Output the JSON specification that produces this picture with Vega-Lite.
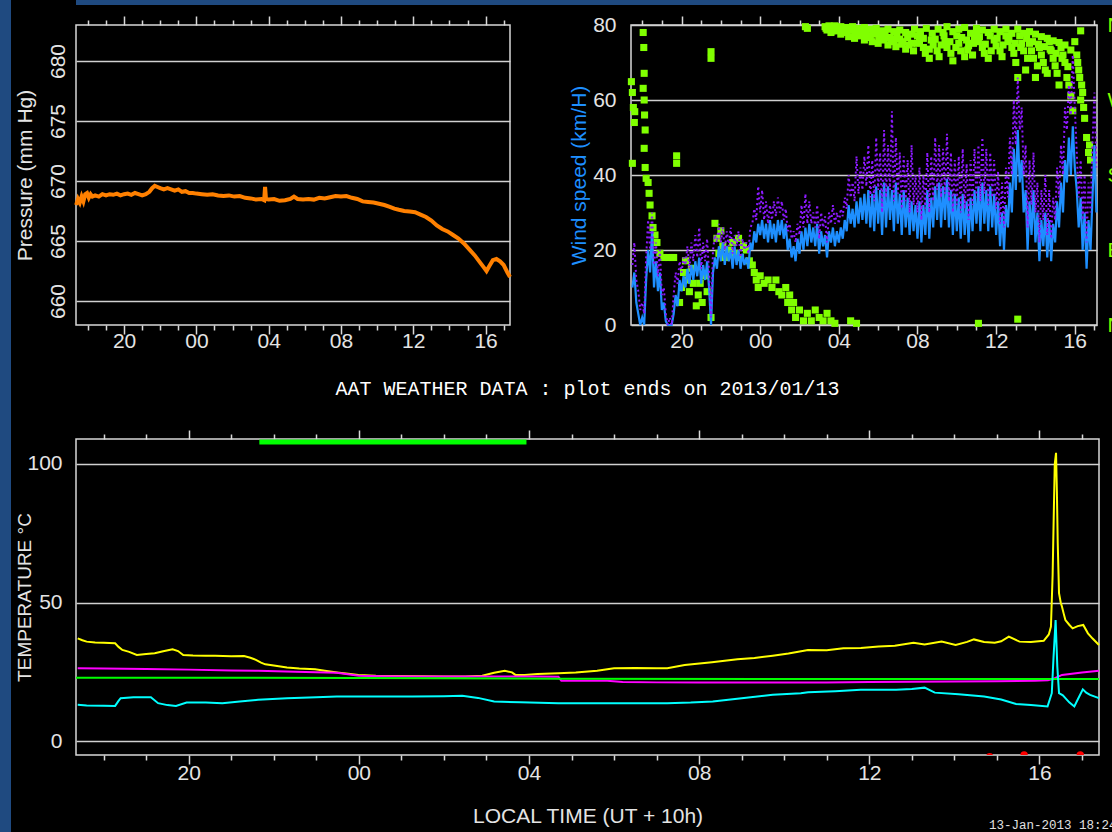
{
"$schema": "https://vega.github.io/schema/vega-lite/v6.json",
"background": "#000000",
"padding": 0,
"title": {"text": "13-Jan-2013 18:24", "orient": "bottom", "anchor": "end", "font": "Liberation Mono", "fontSize": 12.5, "fontWeight": "normal", "color": "#e0e0e0", "offset": -13, "dx": -11},
"spacing": 2,
"config": {
  "view": {"stroke": "#d8d8d8", "strokeWidth": 1.5},
  "axis": {"domain": false, "labelColor": "#e4e4e4", "labelFont": "Liberation Sans", "labelFontSize": 21, "titleColor": "#e4e4e4", "titleFont": "Liberation Sans", "titleFontSize": 21, "titleFontWeight": "normal", "tickColor": "#d8d8d8", "tickWidth": 1.5, "gridColor": "#d0d0d0", "gridWidth": 1.5, "gridOpacity": 1, "labelOverlap": false, "labelFlush": false}
},
"datasets": {
"pressure": [{"t":17.35,"p":668.0},{"t":17.45,"p":668.5},{"t":17.55,"p":668.2},{"t":17.65,"p":668.7},{"t":17.75,"p":668.3},{"t":17.85,"p":668.9},{"t":17.95,"p":669.0},{"t":18.05,"p":668.6},{"t":18.15,"p":668.9},{"t":18.25,"p":668.7},{"t":18.4,"p":668.8},{"t":18.6,"p":668.7},{"t":18.8,"p":668.9},{"t":19.0,"p":668.8},{"t":19.2,"p":668.9},{"t":19.4,"p":668.85},{"t":19.6,"p":668.95},{"t":19.8,"p":668.8},{"t":20.0,"p":668.9},{"t":20.2,"p":668.95},{"t":20.4,"p":668.85},{"t":20.6,"p":669.0},{"t":20.8,"p":668.9},{"t":21.0,"p":668.8},{"t":21.2,"p":668.9},{"t":21.4,"p":669.1},{"t":21.55,"p":669.4},{"t":21.7,"p":669.6},{"t":21.85,"p":669.5},{"t":22.0,"p":669.4},{"t":22.2,"p":669.3},{"t":22.4,"p":669.4},{"t":22.6,"p":669.3},{"t":22.8,"p":669.2},{"t":23.0,"p":669.3},{"t":23.2,"p":669.1},{"t":23.4,"p":669.15},{"t":23.6,"p":669.0},{"t":23.8,"p":669.0},{"t":24.0,"p":668.95},{"t":24.3,"p":668.9},{"t":24.6,"p":668.85},{"t":24.9,"p":668.9},{"t":25.2,"p":668.8},{"t":25.5,"p":668.75},{"t":25.8,"p":668.8},{"t":26.1,"p":668.7},{"t":26.4,"p":668.75},{"t":26.7,"p":668.6},{"t":27.0,"p":668.55},{"t":27.3,"p":668.45},{"t":27.6,"p":668.5},{"t":27.75,"p":668.4},{"t":27.8,"p":669.5},{"t":27.85,"p":668.5},{"t":28.0,"p":668.45},{"t":28.3,"p":668.5},{"t":28.6,"p":668.35},{"t":28.9,"p":668.4},{"t":29.2,"p":668.5},{"t":29.4,"p":668.7},{"t":29.6,"p":668.5},{"t":29.9,"p":668.45},{"t":30.2,"p":668.5},{"t":30.5,"p":668.45},{"t":30.8,"p":668.6},{"t":31.1,"p":668.55},{"t":31.4,"p":668.65},{"t":31.7,"p":668.75},{"t":32.0,"p":668.7},{"t":32.3,"p":668.75},{"t":32.6,"p":668.6},{"t":32.9,"p":668.5},{"t":33.2,"p":668.3},{"t":33.5,"p":668.25},{"t":33.8,"p":668.2},{"t":34.1,"p":668.1},{"t":34.4,"p":668.0},{"t":34.7,"p":667.85},{"t":34.95,"p":667.7},{"t":35.2,"p":667.6},{"t":35.5,"p":667.5},{"t":35.8,"p":667.45},{"t":36.1,"p":667.4},{"t":36.4,"p":667.2},{"t":36.7,"p":667.0},{"t":37.0,"p":666.7},{"t":37.3,"p":666.3},{"t":37.6,"p":666.0},{"t":37.9,"p":665.8},{"t":38.2,"p":665.5},{"t":38.5,"p":665.2},{"t":38.8,"p":664.8},{"t":39.1,"p":664.3},{"t":39.4,"p":663.8},{"t":39.7,"p":663.2},{"t":39.9,"p":662.8},{"t":40.05,"p":662.5},{"t":40.2,"p":662.9},{"t":40.4,"p":663.4},{"t":40.6,"p":663.5},{"t":40.8,"p":663.3},{"t":41.0,"p":663.0},{"t":41.2,"p":662.4},{"t":41.35,"p":662.0}],
"wind": [{"t":17.5,"ws":10,"wg":16},{"t":17.6,"ws":14,"wg":22},{"t":17.7,"ws":6,"wg":12},{"t":17.8,"ws":3,"wg":9},{"t":17.9,"ws":0,"wg":4},{"t":18.0,"ws":2,"wg":6},{"t":18.1,"ws":0,"wg":3},{"t":18.2,"ws":12,"wg":18},{"t":18.3,"ws":20,"wg":28},{"t":18.4,"ws":14,"wg":20},{"t":18.5,"ws":25,"wg":30},{"t":18.6,"ws":10,"wg":16},{"t":18.7,"ws":17,"wg":22},{"t":18.8,"ws":9,"wg":13},{"t":18.9,"ws":14,"wg":20},{"t":19.0,"ws":4,"wg":8},{"t":19.1,"ws":6,"wg":10},{"t":19.2,"ws":1,"wg":3},{"t":19.3,"ws":0,"wg":0},{"t":19.4,"ws":0,"wg":2},{"t":19.5,"ws":0,"wg":0},{"t":19.6,"ws":3,"wg":8},{"t":19.7,"ws":8,"wg":14},{"t":19.8,"ws":5,"wg":11},{"t":19.9,"ws":12,"wg":17},{"t":20.0,"ws":9,"wg":14},{"t":20.1,"ws":13,"wg":18},{"t":20.2,"ws":10,"wg":16},{"t":20.3,"ws":15,"wg":21},{"t":20.4,"ws":11,"wg":15},{"t":20.5,"ws":16,"wg":22},{"t":20.6,"ws":12,"wg":17},{"t":20.7,"ws":17,"wg":24},{"t":20.8,"ws":13,"wg":18},{"t":20.9,"ws":18,"wg":26},{"t":21.0,"ws":11,"wg":15},{"t":21.1,"ws":16,"wg":22},{"t":21.2,"ws":12,"wg":17},{"t":21.3,"ws":17,"wg":23},{"t":21.4,"ws":10,"wg":14},{"t":21.5,"ws":0,"wg":2},{"t":21.6,"ws":14,"wg":20},{"t":21.7,"ws":18,"wg":24},{"t":21.8,"ws":15,"wg":22},{"t":21.9,"ws":21,"wg":27},{"t":22.0,"ws":17,"wg":22},{"t":22.1,"ws":22,"wg":26},{"t":22.2,"ws":16,"wg":20},{"t":22.3,"ws":21,"wg":25},{"t":22.4,"ws":17,"wg":21},{"t":22.5,"ws":20,"wg":26},{"t":22.6,"ws":15,"wg":19},{"t":22.7,"ws":21,"wg":24},{"t":22.8,"ws":16,"wg":21},{"t":22.9,"ws":20,"wg":25},{"t":23.0,"ws":15,"wg":18},{"t":23.1,"ws":19,"wg":23},{"t":23.2,"ws":16,"wg":20},{"t":23.3,"ws":18,"wg":22},{"t":23.4,"ws":15,"wg":19},{"t":23.5,"ws":22,"wg":26},{"t":23.6,"ws":20,"wg":27},{"t":23.7,"ws":25,"wg":31},{"t":23.8,"ws":22,"wg":28},{"t":23.9,"ws":27,"wg":37},{"t":24.0,"ws":24,"wg":30},{"t":24.1,"ws":28,"wg":36},{"t":24.2,"ws":23,"wg":28},{"t":24.3,"ws":27,"wg":33},{"t":24.4,"ws":22,"wg":27},{"t":24.5,"ws":28,"wg":32},{"t":24.6,"ws":23,"wg":28},{"t":24.7,"ws":27,"wg":33},{"t":24.8,"ws":22,"wg":29},{"t":24.9,"ws":28,"wg":34},{"t":25.0,"ws":24,"wg":30},{"t":25.1,"ws":28,"wg":33},{"t":25.2,"ws":23,"wg":28},{"t":25.3,"ws":27,"wg":31},{"t":25.4,"ws":20,"wg":25},{"t":25.5,"ws":23,"wg":27},{"t":25.6,"ws":18,"wg":23},{"t":25.7,"ws":21,"wg":25},{"t":25.8,"ws":17,"wg":22},{"t":25.9,"ws":23,"wg":27},{"t":26.0,"ws":19,"wg":24},{"t":26.1,"ws":25,"wg":32},{"t":26.2,"ws":20,"wg":26},{"t":26.3,"ws":26,"wg":35},{"t":26.4,"ws":21,"wg":27},{"t":26.5,"ws":27,"wg":33},{"t":26.6,"ws":22,"wg":27},{"t":26.7,"ws":26,"wg":30},{"t":26.8,"ws":21,"wg":26},{"t":26.9,"ws":27,"wg":32},{"t":27.0,"ws":19,"wg":23},{"t":27.1,"ws":25,"wg":30},{"t":27.2,"ws":21,"wg":26},{"t":27.3,"ws":24,"wg":29},{"t":27.4,"ws":18,"wg":22},{"t":27.5,"ws":25,"wg":30},{"t":27.6,"ws":22,"wg":27},{"t":27.7,"ws":26,"wg":32},{"t":27.8,"ws":21,"wg":27},{"t":27.9,"ws":25,"wg":30},{"t":28.0,"ws":22,"wg":27},{"t":28.1,"ws":26,"wg":31},{"t":28.2,"ws":23,"wg":29},{"t":28.3,"ws":28,"wg":34},{"t":28.4,"ws":25,"wg":31},{"t":28.5,"ws":32,"wg":40},{"t":28.6,"ws":27,"wg":34},{"t":28.7,"ws":31,"wg":38},{"t":28.8,"ws":26,"wg":33},{"t":28.9,"ws":33,"wg":45},{"t":29.0,"ws":27,"wg":35},{"t":29.1,"ws":34,"wg":42},{"t":29.2,"ws":28,"wg":36},{"t":29.3,"ws":35,"wg":45},{"t":29.4,"ws":27,"wg":37},{"t":29.5,"ws":36,"wg":48},{"t":29.6,"ws":26,"wg":34},{"t":29.7,"ws":35,"wg":44},{"t":29.8,"ws":25,"wg":33},{"t":29.9,"ws":37,"wg":50},{"t":30.0,"ws":27,"wg":36},{"t":30.1,"ws":36,"wg":46},{"t":30.2,"ws":24,"wg":30},{"t":30.3,"ws":38,"wg":52},{"t":30.4,"ws":26,"wg":34},{"t":30.5,"ws":37,"wg":48},{"t":30.6,"ws":28,"wg":36},{"t":30.7,"ws":36,"wg":57},{"t":30.8,"ws":25,"wg":33},{"t":30.9,"ws":38,"wg":50},{"t":31.0,"ws":27,"wg":35},{"t":31.1,"ws":35,"wg":46},{"t":31.2,"ws":24,"wg":31},{"t":31.3,"ws":36,"wg":45},{"t":31.4,"ws":26,"wg":33},{"t":31.5,"ws":34,"wg":44},{"t":31.6,"ws":24,"wg":30},{"t":31.7,"ws":33,"wg":48},{"t":31.8,"ws":25,"wg":32},{"t":31.9,"ws":32,"wg":40},{"t":32.0,"ws":23,"wg":30},{"t":32.1,"ws":33,"wg":42},{"t":32.2,"ws":22,"wg":28},{"t":32.3,"ws":32,"wg":40},{"t":32.4,"ws":24,"wg":31},{"t":32.5,"ws":36,"wg":46},{"t":32.6,"ws":23,"wg":30},{"t":32.7,"ws":34,"wg":45},{"t":32.8,"ws":26,"wg":33},{"t":32.9,"ws":37,"wg":50},{"t":33.0,"ws":28,"wg":36},{"t":33.1,"ws":38,"wg":48},{"t":33.2,"ws":26,"wg":34},{"t":33.3,"ws":37,"wg":47},{"t":33.4,"ws":28,"wg":35},{"t":33.5,"ws":39,"wg":51},{"t":33.6,"ws":26,"wg":33},{"t":33.7,"ws":36,"wg":46},{"t":33.8,"ws":24,"wg":30},{"t":33.9,"ws":35,"wg":44},{"t":34.0,"ws":25,"wg":32},{"t":34.1,"ws":34,"wg":45},{"t":34.2,"ws":23,"wg":30},{"t":34.3,"ws":35,"wg":47},{"t":34.4,"ws":24,"wg":31},{"t":34.5,"ws":33,"wg":43},{"t":34.6,"ws":22,"wg":28},{"t":34.7,"ws":34,"wg":44},{"t":34.8,"ws":25,"wg":32},{"t":34.9,"ws":36,"wg":47},{"t":35.0,"ws":27,"wg":34},{"t":35.1,"ws":37,"wg":48},{"t":35.2,"ws":25,"wg":33},{"t":35.3,"ws":38,"wg":50},{"t":35.4,"ws":27,"wg":35},{"t":35.5,"ws":36,"wg":47},{"t":35.6,"ws":25,"wg":32},{"t":35.7,"ws":37,"wg":46},{"t":35.8,"ws":26,"wg":34},{"t":35.9,"ws":35,"wg":44},{"t":36.0,"ws":24,"wg":31},{"t":36.1,"ws":33,"wg":41},{"t":36.2,"ws":21,"wg":27},{"t":36.3,"ws":30,"wg":38},{"t":36.4,"ws":20,"wg":26},{"t":36.5,"ws":32,"wg":42},{"t":36.6,"ws":26,"wg":34},{"t":36.7,"ws":38,"wg":50},{"t":36.8,"ws":30,"wg":40},{"t":36.9,"ws":47,"wg":60},{"t":37.0,"ws":36,"wg":48},{"t":37.1,"ws":52,"wg":66},{"t":37.2,"ws":38,"wg":52},{"t":37.3,"ws":44,"wg":58},{"t":37.4,"ws":30,"wg":40},{"t":37.5,"ws":36,"wg":48},{"t":37.6,"ws":20,"wg":26},{"t":37.7,"ws":33,"wg":44},{"t":37.8,"ws":24,"wg":32},{"t":37.9,"ws":36,"wg":46},{"t":38.0,"ws":22,"wg":30},{"t":38.1,"ws":30,"wg":38},{"t":38.2,"ws":17,"wg":22},{"t":38.3,"ws":28,"wg":36},{"t":38.4,"ws":21,"wg":28},{"t":38.5,"ws":30,"wg":40},{"t":38.6,"ws":18,"wg":24},{"t":38.7,"ws":28,"wg":36},{"t":38.8,"ws":17,"wg":23},{"t":38.9,"ws":27,"wg":34},{"t":39.0,"ws":22,"wg":28},{"t":39.1,"ws":33,"wg":42},{"t":39.2,"ws":26,"wg":34},{"t":39.3,"ws":38,"wg":48},{"t":39.4,"ws":30,"wg":40},{"t":39.5,"ws":44,"wg":58},{"t":39.6,"ws":38,"wg":52},{"t":39.7,"ws":50,"wg":64},{"t":39.8,"ws":40,"wg":56},{"t":39.9,"ws":53,"wg":72},{"t":40.0,"ws":42,"wg":58},{"t":40.1,"ws":36,"wg":46},{"t":40.2,"ws":26,"wg":34},{"t":40.3,"ws":34,"wg":44},{"t":40.4,"ws":20,"wg":28},{"t":40.5,"ws":30,"wg":40},{"t":40.6,"ws":15,"wg":22},{"t":40.7,"ws":28,"wg":38},{"t":40.8,"ws":20,"wg":30},{"t":40.9,"ws":34,"wg":48},{"t":41.0,"ws":48,"wg":62},{"t":41.1,"ws":30,"wg":42}],
"winddir": [{"t":17.45,"d":292},{"t":17.5,"d":279},{"t":17.55,"d":261},{"t":17.6,"d":243},{"t":17.5,"d":194},{"t":17.62,"d":256},{"t":18.05,"d":351},{"t":18.08,"d":333},{"t":18.1,"d":302},{"t":18.05,"d":284},{"t":18.1,"d":270},{"t":18.12,"d":252},{"t":18.15,"d":234},{"t":18.1,"d":212},{"t":18.15,"d":189},{"t":18.2,"d":176},{"t":18.3,"d":171},{"t":18.35,"d":158},{"t":18.4,"d":144},{"t":18.5,"d":131},{"t":18.55,"d":117},{"t":18.65,"d":108},{"t":18.75,"d":99},{"t":18.9,"d":86},{"t":19.1,"d":81},{"t":19.3,"d":81},{"t":19.5,"d":81},{"t":19.6,"d":81},{"t":19.75,"d":203},{"t":19.75,"d":194},{"t":19.9,"d":27},{"t":20.0,"d":45},{"t":20.1,"d":63},{"t":20.2,"d":77},{"t":20.3,"d":54},{"t":20.4,"d":40},{"t":20.5,"d":68},{"t":20.6,"d":50},{"t":20.75,"d":23},{"t":20.85,"d":36},{"t":20.95,"d":50},{"t":21.05,"d":27},{"t":21.2,"d":59},{"t":21.3,"d":40},{"t":21.5,"d":328},{"t":21.5,"d":320},{"t":21.5,"d":9},{"t":21.7,"d":122},{"t":21.8,"d":104},{"t":21.9,"d":86},{"t":22.0,"d":113},{"t":22.1,"d":95},{"t":22.2,"d":81},{"t":22.4,"d":90},{"t":22.6,"d":99},{"t":22.7,"d":86},{"t":22.9,"d":104},{"t":23.0,"d":81},{"t":23.15,"d":95},{"t":23.3,"d":90},{"t":23.45,"d":77},{"t":23.6,"d":72},{"t":23.7,"d":63},{"t":23.8,"d":54},{"t":23.9,"d":45},{"t":24.0,"d":59},{"t":24.2,"d":50},{"t":24.4,"d":54},{"t":24.6,"d":45},{"t":24.8,"d":54},{"t":24.95,"d":40},{"t":25.1,"d":36},{"t":25.3,"d":45},{"t":25.4,"d":27},{"t":25.5,"d":36},{"t":25.6,"d":18},{"t":25.7,"d":27},{"t":25.8,"d":9},{"t":26.0,"d":18},{"t":26.2,"d":5},{"t":26.4,"d":14},{"t":26.6,"d":5},{"t":26.8,"d":18},{"t":27.0,"d":9},{"t":27.2,"d":5},{"t":27.4,"d":14},{"t":27.6,"d":5},{"t":27.8,"d":2},{"t":28.6,"d":5},{"t":28.9,"d":2},{"t":26.3,"d":358},{"t":26.4,"d":356},{"t":27.3,"d":358},{"t":27.4,"d":354},{"t":27.6,"d":351},{"t":27.8,"d":357},{"t":27.9,"d":353},{"t":28.1,"d":349},{"t":28.2,"d":356},{"t":28.4,"d":351},{"t":28.5,"d":346},{"t":28.7,"d":354},{"t":28.8,"d":344},{"t":29.0,"d":351},{"t":29.1,"d":347},{"t":29.3,"d":342},{"t":29.4,"d":352},{"t":29.6,"d":345},{"t":29.7,"d":340},{"t":29.9,"d":349},{"t":30.0,"d":338},{"t":30.2,"d":347},{"t":30.3,"d":342},{"t":30.5,"d":336},{"t":30.6,"d":345},{"t":30.8,"d":340},{"t":30.9,"d":334},{"t":31.1,"d":343},{"t":31.2,"d":337},{"t":31.4,"d":331},{"t":31.5,"d":345},{"t":31.7,"d":338},{"t":31.8,"d":329},{"t":32.0,"d":347},{"t":32.1,"d":340},{"t":32.3,"d":333},{"t":32.4,"d":326},{"t":32.6,"d":320},{"t":32.7,"d":342},{"t":32.8,"d":336},{"t":33.0,"d":329},{"t":33.1,"d":322},{"t":33.3,"d":351},{"t":33.4,"d":340},{"t":33.5,"d":333},{"t":33.7,"d":326},{"t":33.8,"d":317},{"t":34.0,"d":347},{"t":34.1,"d":338},{"t":34.2,"d":329},{"t":34.4,"d":322},{"t":34.5,"d":342},{"t":34.6,"d":335},{"t":34.8,"d":324},{"t":34.9,"d":345},{"t":35.0,"d":351},{"t":35.1,"d":340},{"t":35.3,"d":333},{"t":35.4,"d":326},{"t":35.6,"d":320},{"t":35.7,"d":347},{"t":35.9,"d":342},{"t":36.0,"d":335},{"t":36.2,"d":329},{"t":36.3,"d":322},{"t":36.5,"d":347},{"t":36.6,"d":340},{"t":36.8,"d":333},{"t":36.9,"d":326},{"t":37.0,"d":315},{"t":37.1,"d":297},{"t":37.2,"d":347},{"t":37.3,"d":338},{"t":37.4,"d":329},{"t":37.5,"d":306},{"t":37.6,"d":320},{"t":37.7,"d":338},{"t":37.8,"d":329},{"t":37.9,"d":320},{"t":38.0,"d":297},{"t":38.1,"d":311},{"t":38.2,"d":333},{"t":38.3,"d":324},{"t":38.4,"d":315},{"t":38.5,"d":306},{"t":38.6,"d":302},{"t":38.7,"d":340},{"t":38.8,"d":329},{"t":38.9,"d":320},{"t":39.0,"d":311},{"t":39.1,"d":302},{"t":39.2,"d":288},{"t":39.3,"d":333},{"t":39.4,"d":324},{"t":39.5,"d":315},{"t":39.6,"d":297},{"t":39.7,"d":288},{"t":39.8,"d":275},{"t":39.9,"d":257},{"t":40.0,"d":340},{"t":40.1,"d":324},{"t":40.15,"d":315},{"t":40.2,"d":306},{"t":40.25,"d":297},{"t":40.3,"d":353},{"t":40.3,"d":270},{"t":40.35,"d":288},{"t":40.4,"d":279},{"t":40.45,"d":261},{"t":40.5,"d":248},{"t":40.6,"d":225},{"t":40.7,"d":207},{"t":40.8,"d":198},{"t":40.75,"d":216},{"t":35.1,"d":2},{"t":37.1,"d":7},
{"t":27.35,"d":356},{"t":27.5,"d":359},{"t":27.65,"d":353},{"t":27.8,"d":359},{"t":27.95,"d":355},{"t":28.1,"d":358},{"t":28.25,"d":352},{"t":28.4,"d":357},{"t":28.55,"d":354},{"t":28.7,"d":358},{"t":28.85,"d":349},{"t":29.0,"d":356},{"t":29.15,"d":352},{"t":29.3,"d":357},{"t":29.45,"d":347},{"t":29.6,"d":355},{"t":29.75,"d":350},{"t":29.9,"d":356},{"t":30.05,"d":345},{"t":30.2,"d":353},{"t":30.35,"d":348},{"t":30.5,"d":355},{"t":30.65,"d":343},{"t":30.8,"d":352},{"t":30.95,"d":347},{"t":31.1,"d":354},{"t":31.25,"d":340},{"t":31.4,"d":351},{"t":31.55,"d":336},{"t":31.7,"d":349},{"t":31.85,"d":355},{"t":32.0,"d":338},{"t":32.15,"d":352},{"t":32.3,"d":344},{"t":32.45,"d":356},{"t":32.6,"d":331},{"t":32.75,"d":350},{"t":32.9,"d":343},{"t":33.05,"d":355},{"t":33.2,"d":336},{"t":33.35,"d":347},{"t":33.5,"d":358},{"t":33.65,"d":340},{"t":33.8,"d":352},{"t":33.95,"d":333},{"t":34.1,"d":355},{"t":34.25,"d":345},{"t":34.4,"d":357},{"t":34.55,"d":330},{"t":34.7,"d":350},{"t":34.85,"d":338},{"t":35.0,"d":356},{"t":35.15,"d":346},{"t":35.3,"d":354},{"t":35.45,"d":337},{"t":35.6,"d":351},{"t":35.75,"d":329},{"t":35.9,"d":355},{"t":36.05,"d":344},{"t":36.2,"d":352},{"t":36.35,"d":336},{"t":36.5,"d":355},{"t":36.65,"d":343},{"t":36.8,"d":350},{"t":36.95,"d":338},{"t":37.1,"d":355},{"t":37.25,"d":333},{"t":37.4,"d":350},{"t":37.55,"d":344},{"t":37.7,"d":352},{"t":37.85,"d":340},{"t":38.0,"d":349},{"t":38.15,"d":337},{"t":38.3,"d":346},{"t":38.45,"d":334},{"t":38.6,"d":344},{"t":38.75,"d":331},{"t":38.9,"d":341},{"t":39.05,"d":326},{"t":39.2,"d":339},{"t":39.35,"d":320},{"t":39.5,"d":336},{"t":39.65,"d":310},{"t":39.8,"d":330}],
"temps": [{"t":17.39,"v":37.1,"s":"a"},{"t":17.5,"v":36.4,"s":"a"},{"t":17.6,"v":35.9,"s":"a"},{"t":17.8,"v":35.6,"s":"a"},{"t":18.0,"v":35.5,"s":"a"},{"t":18.27,"v":35.3,"s":"a"},{"t":18.35,"v":34.0,"s":"a"},{"t":18.44,"v":32.9,"s":"a"},{"t":18.6,"v":32.2,"s":"a"},{"t":18.78,"v":31.1,"s":"a"},{"t":19.0,"v":31.4,"s":"a"},{"t":19.2,"v":31.7,"s":"a"},{"t":19.4,"v":32.4,"s":"a"},{"t":19.62,"v":33.1,"s":"a"},{"t":19.75,"v":32.5,"s":"a"},{"t":19.87,"v":31.1,"s":"a"},{"t":20.1,"v":30.9,"s":"a"},{"t":20.4,"v":30.8,"s":"a"},{"t":20.62,"v":30.8,"s":"a"},{"t":21.0,"v":30.6,"s":"a"},{"t":21.3,"v":30.7,"s":"a"},{"t":21.45,"v":30.1,"s":"a"},{"t":21.58,"v":29.3,"s":"a"},{"t":21.7,"v":28.3,"s":"a"},{"t":21.8,"v":27.7,"s":"a"},{"t":22.0,"v":27.3,"s":"a"},{"t":22.31,"v":26.6,"s":"a"},{"t":22.6,"v":26.2,"s":"a"},{"t":22.97,"v":25.9,"s":"a"},{"t":23.2,"v":25.4,"s":"a"},{"t":23.49,"v":24.8,"s":"a"},{"t":23.75,"v":24.3,"s":"a"},{"t":23.99,"v":23.9,"s":"a"},{"t":24.4,"v":23.6,"s":"a"},{"t":24.83,"v":23.5,"s":"a"},{"t":25.5,"v":23.4,"s":"a"},{"t":26.0,"v":23.3,"s":"a"},{"t":26.5,"v":23.3,"s":"a"},{"t":26.9,"v":23.6,"s":"a"},{"t":27.18,"v":24.7,"s":"a"},{"t":27.43,"v":25.4,"s":"a"},{"t":27.6,"v":24.8,"s":"a"},{"t":27.68,"v":23.9,"s":"a"},{"t":27.9,"v":23.9,"s":"a"},{"t":28.2,"v":24.2,"s":"a"},{"t":28.69,"v":24.5,"s":"a"},{"t":29.1,"v":24.8,"s":"a"},{"t":29.6,"v":25.4,"s":"a"},{"t":30.0,"v":26.3,"s":"a"},{"t":30.5,"v":26.4,"s":"a"},{"t":31.0,"v":26.3,"s":"a"},{"t":31.25,"v":26.3,"s":"a"},{"t":31.66,"v":27.5,"s":"a"},{"t":32.3,"v":28.5,"s":"a"},{"t":32.9,"v":29.5,"s":"a"},{"t":33.3,"v":30.0,"s":"a"},{"t":33.73,"v":30.8,"s":"a"},{"t":34.1,"v":31.6,"s":"a"},{"t":34.56,"v":32.9,"s":"a"},{"t":35.0,"v":32.8,"s":"a"},{"t":35.39,"v":33.5,"s":"a"},{"t":35.8,"v":33.6,"s":"a"},{"t":36.22,"v":34.1,"s":"a"},{"t":36.6,"v":34.4,"s":"a"},{"t":37.04,"v":35.5,"s":"a"},{"t":37.3,"v":34.9,"s":"a"},{"t":37.7,"v":35.9,"s":"a"},{"t":38.03,"v":34.7,"s":"a"},{"t":38.3,"v":35.8,"s":"a"},{"t":38.46,"v":36.7,"s":"a"},{"t":38.7,"v":35.8,"s":"a"},{"t":38.95,"v":35.5,"s":"a"},{"t":39.1,"v":36.0,"s":"a"},{"t":39.28,"v":37.7,"s":"a"},{"t":39.53,"v":35.9,"s":"a"},{"t":39.8,"v":35.8,"s":"a"},{"t":40.1,"v":36.2,"s":"a"},{"t":40.22,"v":38.5,"s":"a"},{"t":40.27,"v":41.3,"s":"a"},{"t":40.31,"v":60,"s":"a"},{"t":40.34,"v":84.5,"s":"a"},{"t":40.36,"v":100,"s":"a"},{"t":40.39,"v":104,"s":"a"},{"t":40.41,"v":90,"s":"a"},{"t":40.43,"v":71.4,"s":"a"},{"t":40.46,"v":53.4,"s":"a"},{"t":40.5,"v":50,"s":"a"},{"t":40.53,"v":48.5,"s":"a"},{"t":40.57,"v":46,"s":"a"},{"t":40.61,"v":43.7,"s":"a"},{"t":40.7,"v":42,"s":"a"},{"t":40.78,"v":40.7,"s":"a"},{"t":40.9,"v":41.5,"s":"a"},{"t":41.03,"v":41.9,"s":"a"},{"t":41.14,"v":38.9,"s":"a"},{"t":41.25,"v":37,"s":"a"},{"t":41.4,"v":34.7,"s":"a"},
{"t":17.39,"v":26.3,"s":"b"},{"t":18.0,"v":26.2,"s":"b"},{"t":19.0,"v":26.0,"s":"b"},{"t":20.0,"v":25.8,"s":"b"},{"t":21.0,"v":25.5,"s":"b"},{"t":21.63,"v":25.4,"s":"b"},{"t":22.5,"v":25.0,"s":"b"},{"t":23.48,"v":24.7,"s":"b"},{"t":23.7,"v":24.2,"s":"b"},{"t":24.0,"v":23.6,"s":"b"},{"t":24.5,"v":23.4,"s":"b"},{"t":25.5,"v":23.3,"s":"b"},{"t":26.43,"v":23.3,"s":"b"},{"t":27.0,"v":23.3,"s":"b"},{"t":27.5,"v":23.3,"s":"b"},{"t":28.2,"v":23.3,"s":"b"},{"t":28.69,"v":23.2,"s":"b"},{"t":28.76,"v":21.8,"s":"b"},{"t":29.84,"v":21.8,"s":"b"},{"t":30.2,"v":21.3,"s":"b"},{"t":31.0,"v":21.2,"s":"b"},{"t":32.0,"v":21.2,"s":"b"},{"t":33.0,"v":21.2,"s":"b"},{"t":34.0,"v":21.2,"s":"b"},{"t":35.0,"v":21.2,"s":"b"},{"t":36.0,"v":21.3,"s":"b"},{"t":37.0,"v":21.4,"s":"b"},{"t":38.0,"v":21.5,"s":"b"},{"t":39.0,"v":21.6,"s":"b"},{"t":39.9,"v":21.8,"s":"b"},{"t":40.2,"v":22.0,"s":"b"},{"t":40.36,"v":22.7,"s":"b"},{"t":40.53,"v":23.9,"s":"b"},{"t":41.0,"v":24.8,"s":"b"},{"t":41.4,"v":25.4,"s":"b"},
{"t":17.35,"v":22.9,"s":"c"},{"t":24.0,"v":22.8,"s":"c"},{"t":28.7,"v":22.5,"s":"c"},{"t":41.4,"v":22.4,"s":"c"},
{"t":17.39,"v":13.1,"s":"d"},{"t":17.6,"v":12.9,"s":"d"},{"t":18.0,"v":12.8,"s":"d"},{"t":18.27,"v":12.7,"s":"d"},{"t":18.35,"v":14.5,"s":"d"},{"t":18.4,"v":15.5,"s":"d"},{"t":18.7,"v":15.8,"s":"d"},{"t":19.11,"v":15.8,"s":"d"},{"t":19.28,"v":13.7,"s":"d"},{"t":19.5,"v":13.0,"s":"d"},{"t":19.7,"v":12.7,"s":"d"},{"t":19.95,"v":13.9,"s":"d"},{"t":20.4,"v":13.9,"s":"d"},{"t":20.79,"v":13.7,"s":"d"},{"t":21.2,"v":14.3,"s":"d"},{"t":21.63,"v":14.9,"s":"d"},{"t":22.31,"v":15.5,"s":"d"},{"t":23.0,"v":15.8,"s":"d"},{"t":23.48,"v":16.1,"s":"d"},{"t":24.3,"v":16.1,"s":"d"},{"t":25.25,"v":16.1,"s":"d"},{"t":26.0,"v":16.2,"s":"d"},{"t":26.43,"v":16.4,"s":"d"},{"t":26.8,"v":15.6,"s":"d"},{"t":27.18,"v":14.3,"s":"d"},{"t":27.8,"v":14.0,"s":"d"},{"t":28.69,"v":13.7,"s":"d"},{"t":29.5,"v":13.7,"s":"d"},{"t":30.5,"v":13.7,"s":"d"},{"t":31.25,"v":13.7,"s":"d"},{"t":31.8,"v":13.9,"s":"d"},{"t":32.32,"v":14.3,"s":"d"},{"t":33.0,"v":15.5,"s":"d"},{"t":33.73,"v":16.7,"s":"d"},{"t":34.39,"v":17.3,"s":"d"},{"t":34.56,"v":17.6,"s":"d"},{"t":35.2,"v":18.0,"s":"d"},{"t":35.8,"v":18.5,"s":"d"},{"t":36.63,"v":18.5,"s":"d"},{"t":37.0,"v":18.8,"s":"d"},{"t":37.3,"v":19.3,"s":"d"},{"t":37.54,"v":17.5,"s":"d"},{"t":38.1,"v":16.9,"s":"d"},{"t":38.7,"v":16.1,"s":"d"},{"t":39.1,"v":15.0,"s":"d"},{"t":39.45,"v":13.4,"s":"d"},{"t":39.8,"v":13.0,"s":"d"},{"t":40.19,"v":12.5,"s":"d"},{"t":40.29,"v":17.3,"s":"d"},{"t":40.33,"v":30,"s":"d"},{"t":40.38,"v":43.7,"s":"d"},{"t":40.42,"v":26.9,"s":"d"},{"t":40.46,"v":17.3,"s":"d"},{"t":40.55,"v":16.5,"s":"d"},{"t":40.61,"v":15.5,"s":"d"},{"t":40.7,"v":14.0,"s":"d"},{"t":40.82,"v":12.5,"s":"d"},{"t":40.9,"v":15.0,"s":"d"},{"t":41.02,"v":18.7,"s":"d"},{"t":41.1,"v":17.5,"s":"d"},{"t":41.19,"v":16.7,"s":"d"},{"t":41.4,"v":15.5,"s":"d"}],
"night": [{"t1":21.66,"t2":27.94,"v":107.9}],
"rain": [{"t":38.83,"v":-5.6},{"t":39.64,"v":-5},{"t":40.96,"v":-5}]
},
"hconcat": [
{
 "width": 11, "height": 832,
 "data": {"values": []},
 "mark": "point",
 "view": {"fill": "#1f4a80", "stroke": null}
},
{
 "spacing": 8,
 "vconcat": [
 {
  "width": 1037, "height": 5,
  "data": {"values": []},
  "mark": "point",
  "view": {"fill": "#1f4a80", "stroke": null}
 },
 {
 "spacing": 26,
 "vconcat": [
 {
  "hconcat": [
  {
   "width": 434, "height": 300,
   "layer": [
    {"data": {"name": "pressure"}, "mark": {"type": "line", "color": "#ff8000", "strokeWidth": 4},
     "encoding": {
      "x": {"field": "t", "type": "quantitative", "scale": {"domain": [17.34, 41.35], "nice": false, "zero": false},
        "axis": {"orient": "bottom", "values": [18,19,20,21,22,23,24,25,26,27,28,29,30,31,32,33,34,35,36,37,38,39,40,41], "labelExpr": "datum.value % 4 == 0 ? ((datum.value % 24) < 10 ? '0' : '') + (datum.value % 24) : ''", "tickSize": {"condition": {"test": "datum.value % 4 == 0", "value": 9}, "value": 5}, "labelPadding": -4, "grid": false, "title": null}},
      "y": {"field": "p", "type": "quantitative", "scale": {"domain": [658, 683], "nice": false, "zero": false},
        "axis": {"orient": "left", "values": [660,665,670,675,680], "grid": true, "ticks": false, "tickSize": 0, "labelAngle": 270, "labelAlign": "center", "labelBaseline": "middle", "labelPadding": 18, "title": "Pressure (mm Hg)", "titleAngle": 270, "titleX": -51, "titleY": 150, "titleAlign": "center", "titleBaseline": "middle"}}
     }},
    {"data": {"name": "pressure"}, "mark": {"type": "line", "opacity": 0},
     "encoding": {
      "x": {"field": "t", "type": "quantitative", "scale": {"domain": [17.34, 41.35], "nice": false, "zero": false},
        "axis": {"orient": "top", "values": [18,19,20,21,22,23,24,25,26,27,28,29,30,31,32,33,34,35,36,37,38,39,40,41], "labels": false, "tickSize": {"condition": {"test": "datum.value % 4 == 0", "value": 9}, "value": 5}, "grid": false, "title": null}},
      "y": {"field": "p", "type": "quantitative", "scale": {"domain": [658, 683], "nice": false, "zero": false}}
     }}
   ],
   "resolve": {"axis": {"x": "independent"}}
  },
  {
   "width": 466, "height": 300,
   "layer": [
    {"data": {"name": "winddir"}, "mark": {"type": "square", "color": "#80ff00", "filled": true, "size": 50, "opacity": 1},
     "encoding": {
      "x": {"field": "t", "type": "quantitative", "scale": {"domain": [17.43, 41.13], "nice": false, "zero": false},
        "axis": {"orient": "top", "values": [18,19,20,21,22,23,24,25,26,27,28,29,30,31,32,33,34,35,36,37,38,39,40,41], "labels": false, "tickSize": {"condition": {"test": "datum.value % 4 == 0", "value": 9}, "value": 5}, "grid": false, "title": null}},
      "y": {"field": "d", "type": "quantitative", "scale": {"domain": [0, 360], "nice": false, "zero": false},
        "axis": {"orient": "right", "values": [0, 90, 180, 270, 360], "labelExpr": "datum.value == 90 ? 'E' : datum.value == 180 ? 'S' : datum.value == 270 ? 'W' : 'N'", "labelColor": "#80ff00", "ticks": false, "tickSize": 0, "labelPadding": 10, "labelAlign": "left", "labelBaseline": "middle", "grid": false, "title": null}}
     }},
    {"data": {"name": "wind"}, "mark": {"type": "line", "color": "#1e8fff", "strokeWidth": 2.2},
     "encoding": {
      "x": {"field": "t", "type": "quantitative", "scale": {"domain": [17.43, 41.13], "nice": false, "zero": false},
        "axis": {"orient": "bottom", "values": [18,19,20,21,22,23,24,25,26,27,28,29,30,31,32,33,34,35,36,37,38,39,40,41], "labelExpr": "datum.value % 4 == 0 ? ((datum.value % 24) < 10 ? '0' : '') + (datum.value % 24) : ''", "tickSize": {"condition": {"test": "datum.value % 4 == 0", "value": 9}, "value": 5}, "labelPadding": -4, "grid": false, "title": null}},
      "y": {"field": "ws", "type": "quantitative", "scale": {"domain": [0, 80], "nice": false, "zero": false},
        "axis": {"orient": "left", "values": [0, 20, 40, 60, 80], "grid": true, "ticks": false, "tickSize": 0, "labelPadding": 15, "labelAlign": "right", "labelBaseline": "middle", "title": "Wind speed (km/H)", "titleColor": "#1e8fff", "titleAngle": 270, "titleX": -52, "titleY": 150, "titleAlign": "center", "titleBaseline": "middle"}}
     }},
    {"data": {"name": "wind"}, "mark": {"type": "line", "color": "#8c1aff", "strokeWidth": 2, "strokeDash": [2, 3]},
     "encoding": {
      "x": {"field": "t", "type": "quantitative", "scale": {"domain": [17.43, 41.13], "nice": false, "zero": false}, "axis": null},
      "y": {"field": "wg", "type": "quantitative", "scale": {"domain": [0, 80], "nice": false, "zero": false}, "axis": null}
     }}
   ],
   "resolve": {"scale": {"y": "independent"}, "axis": {"x": "independent", "y": "independent"}}
  }
  ],
  "spacing": 48
 },
 {
  "width": 1023, "height": 316,
  "title": {"text": "AAT WEATHER DATA : plot ends on 2013/01/13", "font": "Liberation Mono", "fontSize": 20, "fontWeight": "normal", "color": "#ffffff", "anchor": "middle", "offset": 30},
  "layer": [
   {"data": {"name": "temps"}, "mark": {"type": "line", "strokeWidth": 2},
    "encoding": {
     "x": {"field": "t", "type": "quantitative", "scale": {"domain": [17.35, 41.4], "nice": false, "zero": false},
       "axis": {"orient": "bottom", "values": [18,19,20,21,22,23,24,25,26,27,28,29,30,31,32,33,34,35,36,37,38,39,40,41], "labelExpr": "datum.value % 4 == 0 ? ((datum.value % 24) < 10 ? '0' : '') + (datum.value % 24) : ''", "tickSize": {"condition": {"test": "datum.value % 4 == 0", "value": 9}, "value": 5}, "labelPadding": -2, "grid": false, "title": "LOCAL TIME (UT + 10h)", "titlePadding": 22}},
     "y": {"field": "v", "type": "quantitative", "scale": {"domain": [-5, 109], "nice": false, "zero": false},
       "axis": {"orient": "left", "values": [0, 50, 100], "grid": true, "ticks": false, "tickSize": 0, "labelPadding": 14, "labelAlign": "right", "labelBaseline": "middle", "title": "TEMPERATURE °C", "titleFontSize": 19, "titleAngle": 270, "titleX": -52, "titleY": 158, "titleAlign": "center", "titleBaseline": "middle"}},
     "color": {"field": "s", "type": "nominal", "scale": {"domain": ["a", "b", "c", "d"], "range": ["#ffff00", "#ff00ff", "#00ff00", "#00ffff"]}, "legend": null}
    }},
   {"data": {"name": "night"}, "mark": {"type": "rule", "color": "#00ff00", "strokeWidth": 5},
    "encoding": {
     "x": {"field": "t1", "type": "quantitative", "scale": {"domain": [17.35, 41.4], "nice": false, "zero": false},
       "axis": {"orient": "top", "values": [18,19,20,21,22,23,24,25,26,27,28,29,30,31,32,33,34,35,36,37,38,39,40,41], "labels": false, "tickSize": {"condition": {"test": "datum.value % 4 == 0", "value": 9}, "value": 5}, "grid": false, "title": null}},
     "x2": {"field": "t2"},
     "y": {"field": "v", "type": "quantitative", "scale": {"domain": [-5, 109], "nice": false, "zero": false}}
    }},
   {"data": {"name": "rain"}, "mark": {"type": "circle", "color": "#ff0000", "size": 55, "opacity": 1, "clip": true},
    "encoding": {
     "x": {"field": "t", "type": "quantitative", "scale": {"domain": [17.35, 41.4], "nice": false, "zero": false}, "axis": null},
     "y": {"field": "v", "type": "quantitative", "scale": {"domain": [-5, 109], "nice": false, "zero": false}}
    }}
  ],
  "resolve": {"axis": {"x": "independent"}}
 }
 ]
 }
 ]
}
]
}
